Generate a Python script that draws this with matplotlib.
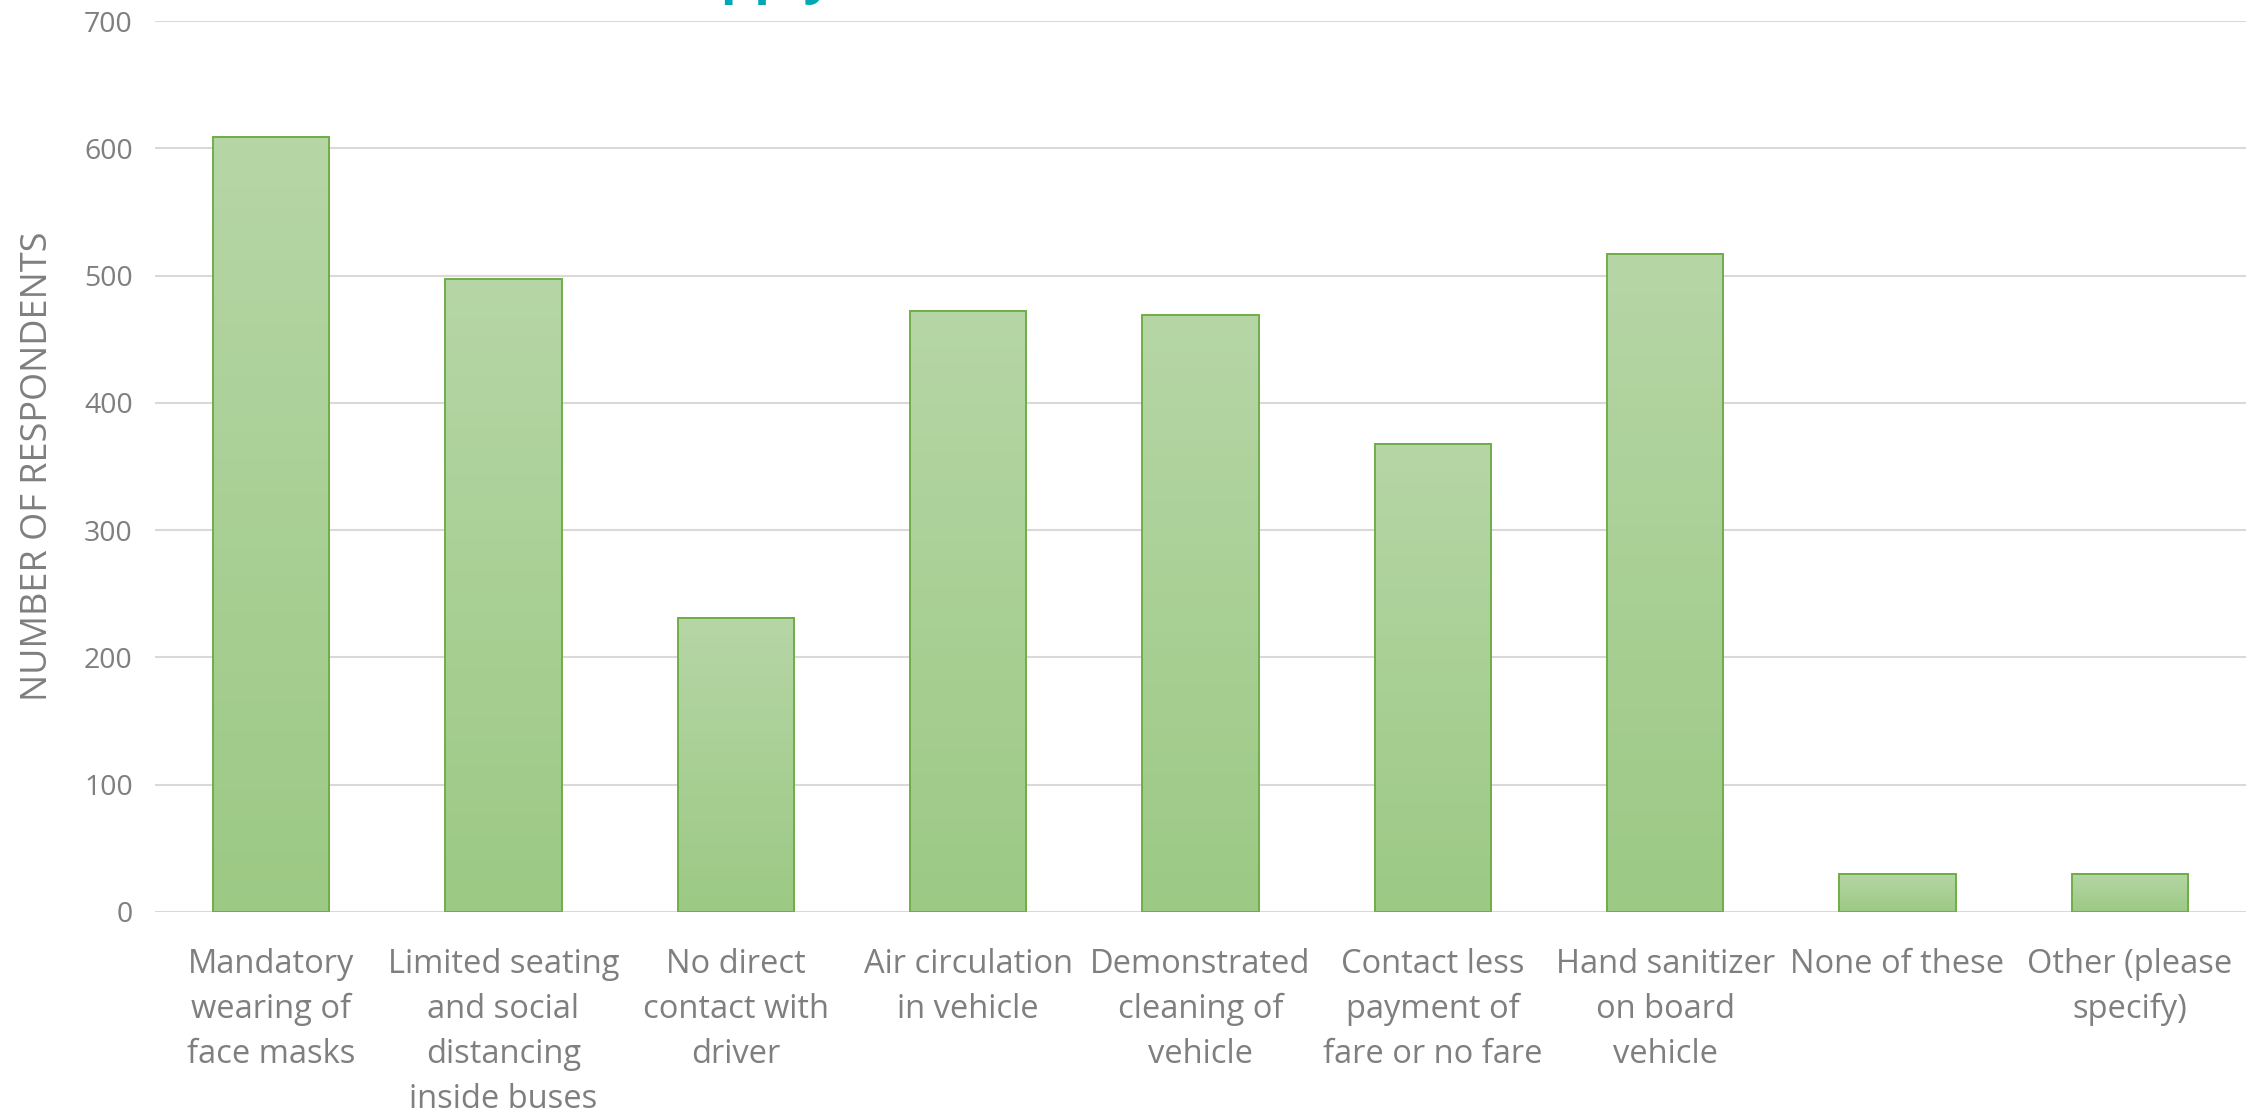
import numpy as np
import matplotlib
matplotlib.use("Agg")
import matplotlib.pyplot as plt
from matplotlib.colors import LinearSegmentedColormap

categories = [
    "Mandatory\nwearing of\nface masks",
    "Limited seating\nand social\ndistancing\ninside buses",
    "No direct\ncontact with\ndriver",
    "Air circulation\nin vehicle",
    "Demonstrated\ncleaning of\nvehicle",
    "Contact less\npayment of\nfare or no fare",
    "Hand sanitizer\non board\nvehicle",
    "None of these",
    "Other (please\nspecify)",
]
values = [609, 497, 231, 472, 469, 368, 517, 30, 30]
yticks = [0, 100, 200, 300, 400, 500, 600, 700]
ylabel = "NUMBER OF RESPONDENTS"
title = "(Choose all that apply)"

plt.rcParams['font.family'] = ['Open Sans', 'DejaVu Sans']
gray = '#7f7f7f'

fig = plt.figure(figsize=(22.57, 11.15), dpi=100)
ax = fig.add_axes([155/2257, 1-912/1115, (2246-155)/2257, (912-21)/1115])

x = np.arange(len(categories))
bars = ax.bar(x, values, width=0.5, color='none', edgecolor='#70ad47',
              linewidth=1.4, zorder=3)

cmap = LinearSegmentedColormap.from_list('g', ['#9cc984', '#b6d6a6'])
grad = np.linspace(0, 1, 256).reshape(-1, 1)
for b in bars:
    x0 = b.get_x(); w = b.get_width(); h = b.get_height()
    ax.imshow(grad, extent=[x0, x0 + w, 0, h], origin='lower', cmap=cmap,
              aspect='auto', zorder=2.5, interpolation='bilinear')

ax.set_xlim(-0.5, len(categories) - 0.5)
ax.set_ylim(0, 700)
ax.set_aspect('auto')
ax.set_yticks(yticks)
ax.set_xticks(x)
ax.set_xticklabels(categories, fontsize=23.5, color=gray, linespacing=1.48,
                   va='top', ha='center', multialignment='center')
ax.tick_params(axis='x', length=0, pad=26)
ax.tick_params(axis='y', length=0, pad=16, labelsize=20.5, labelcolor=gray)
ax.grid(axis='y', color='#d9d9d9', linewidth=1.5, zorder=0)
ax.set_axisbelow(True)
for s in ax.spines.values():
    s.set_visible(False)
ax.set_ylabel(ylabel, fontsize=26, color=gray, labelpad=20)

fig.text(262/2257, 1 + 8/1115, title, fontsize=38, fontweight='bold',
         color='#00a8b5', ha='left', va='baseline')

fig.savefig('out.png', dpi=100)
